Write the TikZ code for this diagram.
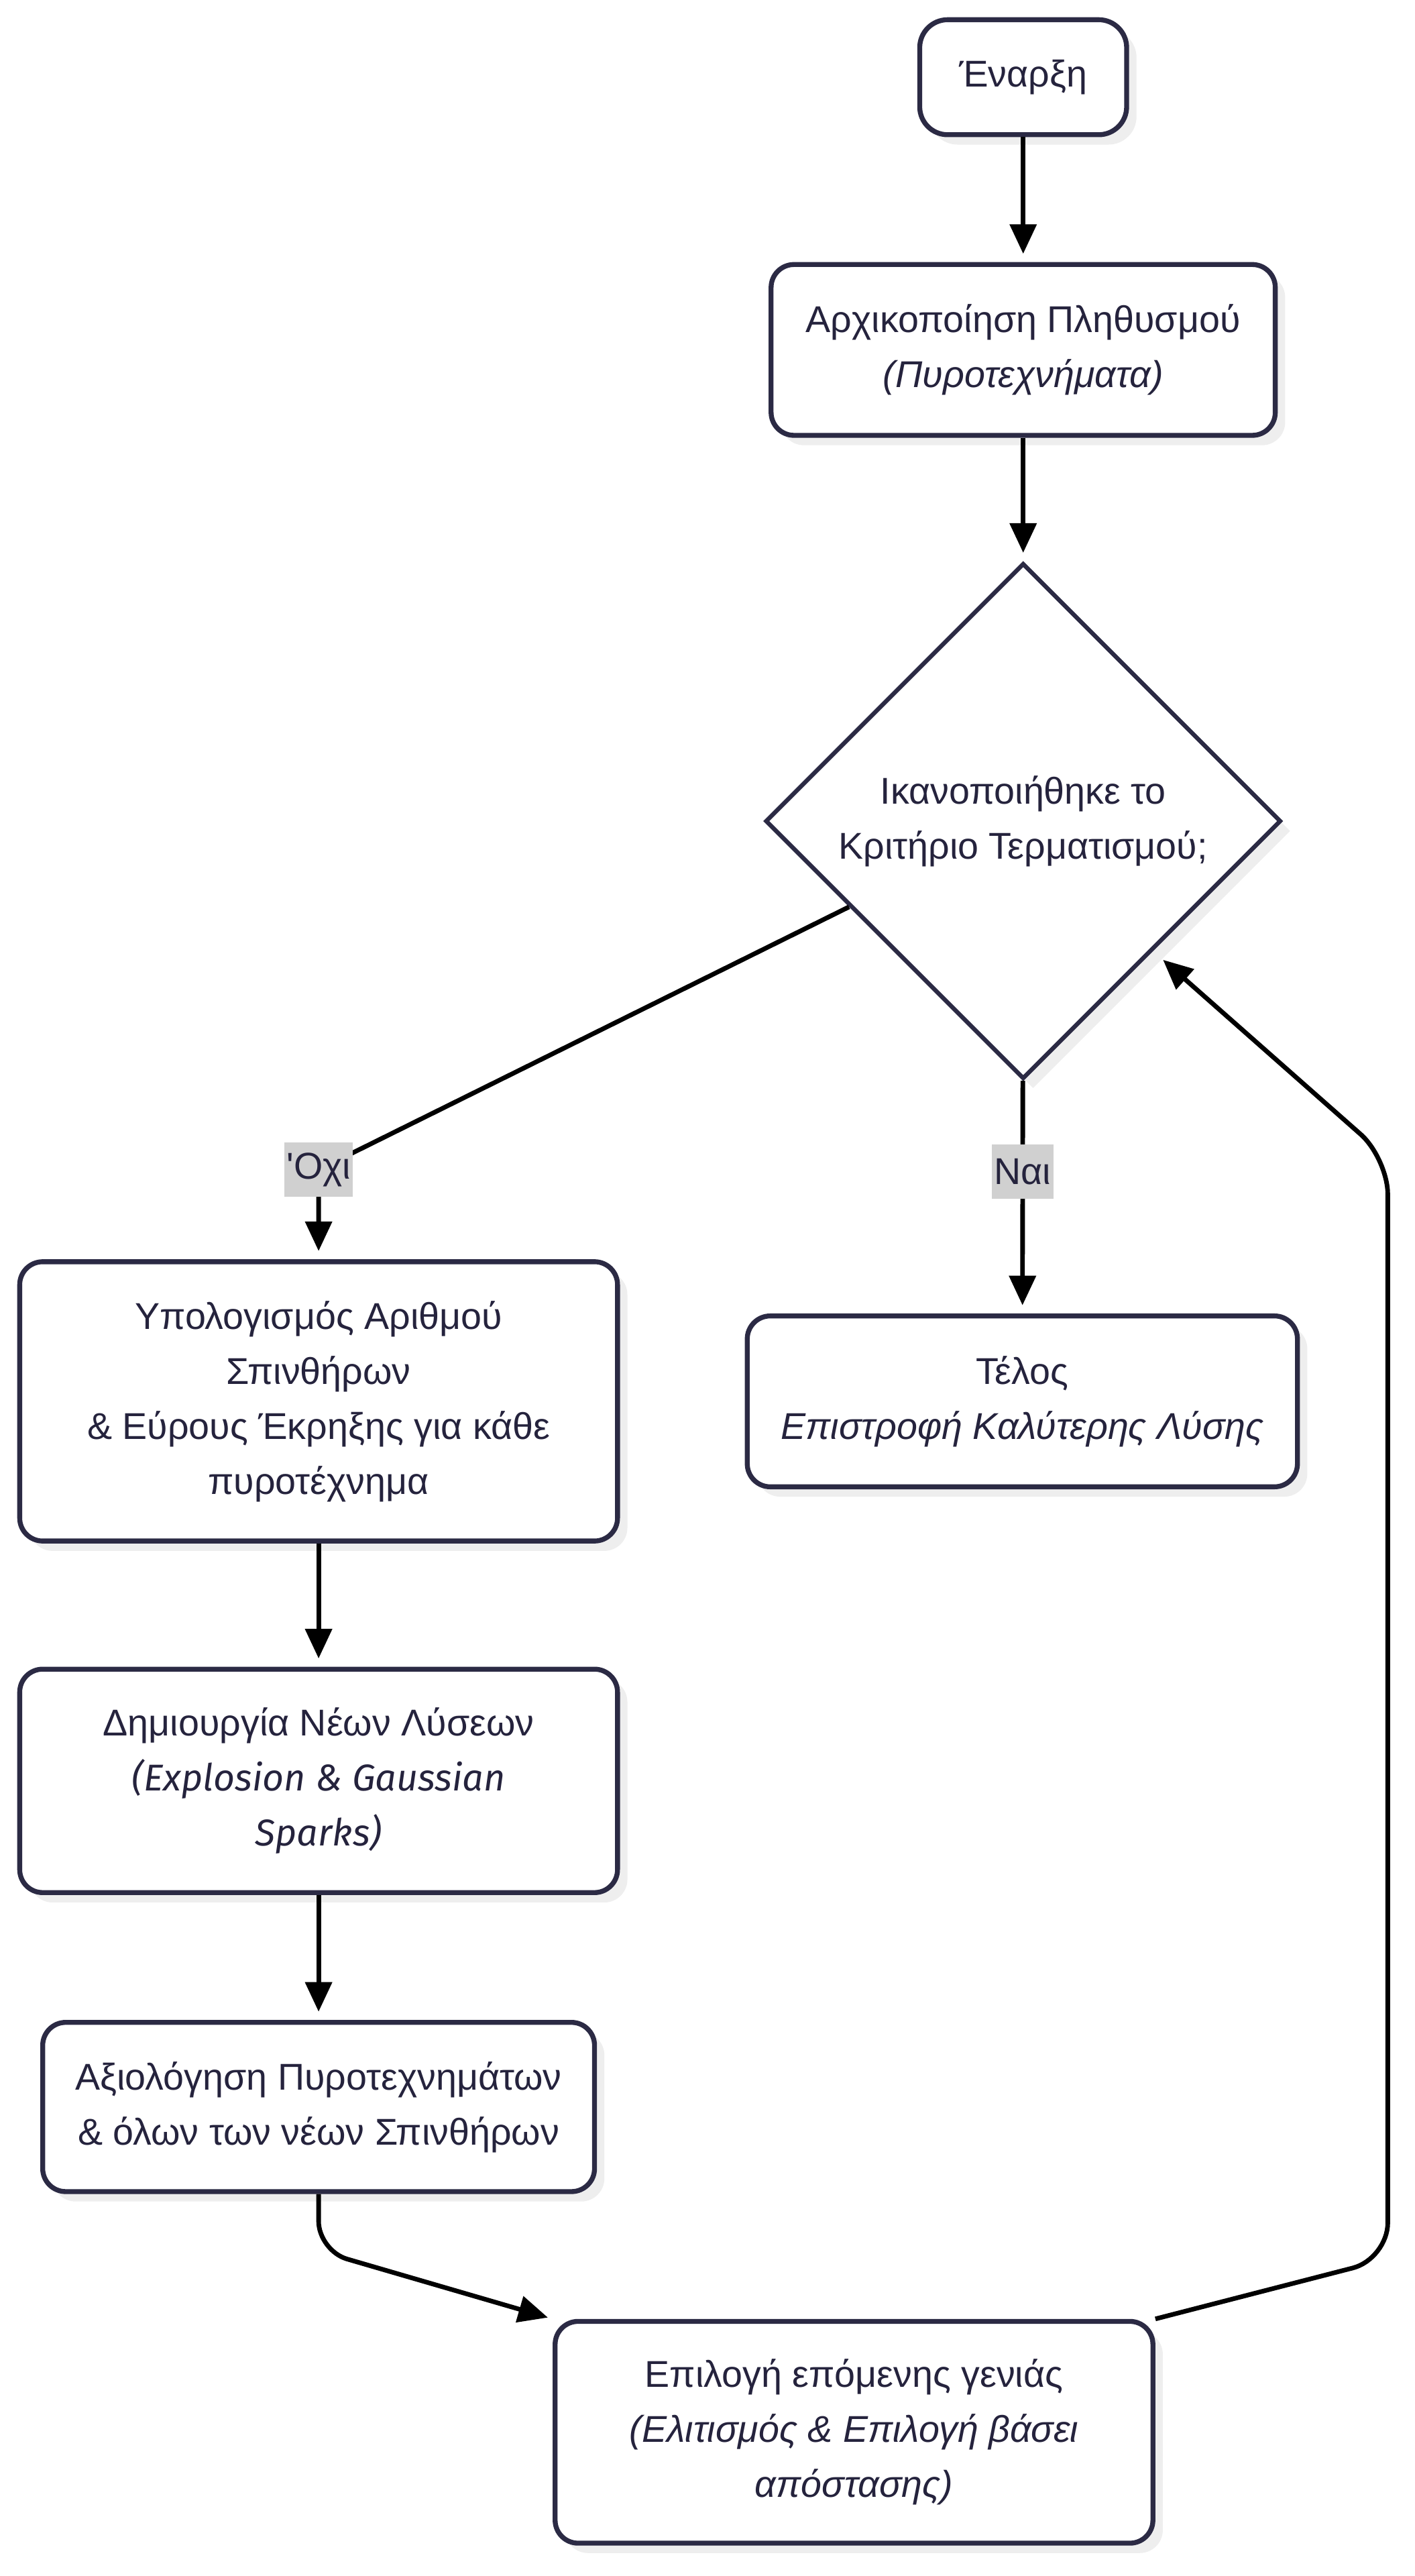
\documentclass[tikz,border=0pt]{standalone}
\usepackage{fontspec}
\setmainfont{Liberation Sans}[Ligatures=TeXOff]
\newfontfamily\sparkfont{Fira Sans}
\usetikzlibrary{arrows.meta, positioning, shapes.geometric, shadows, calc}
\definecolor{linec}{HTML}{2B2A44}
\definecolor{textc}{HTML}{25233D}
\definecolor{labelgray}{HTML}{D0D0D0}
\definecolor{shadowgray}{HTML}{EEEEEE}

\begin{document}
\begin{tikzpicture}[x=1pt, y=-1pt, >={Triangle[length=18pt,width=16pt]},
                    font={\fontsize{22.7pt}{33.5pt}\selectfont},
    flow/.style={->, shorten >=5pt, line width=2.8pt, draw=black},
    block/.style={rectangle, rounded corners=14pt, draw=linec, line width=3pt,
                  fill=white, text=textc, align=center, inner sep=0pt,
                  drop shadow={shadow xshift=6pt, shadow yshift=-6pt, fill=shadowgray, opacity=1}},
    decision/.style={diamond, aspect=1, draw=linec, line width=2.6pt, fill=white,
                  text=textc, align=center, inner sep=0pt,
                  minimum width=314pt, minimum height=314pt,
                  drop shadow={shadow xshift=6pt, shadow yshift=-6pt, fill=shadowgray, opacity=1}},
    lbl/.style={fill=labelgray, text=textc, sharp corners, inner xsep=1.5pt, inner ysep=0pt, minimum height=33pt}]

  \useasboundingbox[fill=white] (0,0) rectangle (861.2,1568);

  \node[block, rounded corners=17pt, minimum width=126pt, minimum height=70pt] (start) at (623,47) {Έναρξη};
  \node[block, minimum width=307pt, minimum height=104pt] (init) [below=76pt of start]
       {Αρχικοποίηση Πληθυσμού\\\textit{(Πυροτεχνήματα)}};
  \node[decision] (dec) [below=75pt of init] {Ικανοποιήθηκε το\\Κριτήριο Τερματισμού;};
  \node[block, minimum width=364pt, minimum height=170pt] (calc) at (194,853)
       {Υπολογισμός Αριθμού\\Σπινθήρων\\\& Εύρους Έκρηξης για κάθε\\πυροτέχνημα};
  \node[block, minimum width=335pt, minimum height=104pt] (telos) at (622.5,853)
       {Τέλος\\\textit{Επιστροφή Καλύτερης Λύσης}};
  \node[block, minimum width=364pt, minimum height=136pt] (create) [below=75pt of calc]
       {Δημιουργία Νέων Λύσεων\\{\sparkfont\itshape (Explosion \& Gaussian}\\{\sparkfont\itshape Sparks)}};
  \node[block, minimum width=336pt, minimum height=103pt] (eval) [below=76pt of create]
       {Αξιολόγηση Πυροτεχνημάτων\\\& όλων των νέων Σπινθήρων};
  \node[block, minimum width=364pt, minimum height=135pt] (select) at (520,1480.5)
       {Επιλογή επόμενης γενιάς\\\textit{(Ελιτισμός \& Επιλογή βάσει}\\\textit{απόστασης)}};

  % turning points
  \coordinate (noturn) at (194,712);
  \coordinate (evturn) at (194,1370);
  \coordinate (loopA) at (845,1375);
  \coordinate (loopB) at (845,705);

  \path (start) edge[flow] (init)
        (init) edge[flow] (dec)
        (calc) edge[flow] (create)
        (create) edge[flow] (eval);

  \draw[flow, rounded corners=4pt] ($(dec.west)!0.33!(dec.south)$) -- (noturn) node[lbl] {'Οχι} -- (calc);
  \draw[flow] (dec) -- node[lbl, pos=0.39] {Ναι} (telos);
  \draw[flow, rounded corners=18pt, shorten >=3pt] (eval) -- (evturn) -- (select.north west);
  \draw[flow, rounded corners=22pt, shorten >=8pt] (select.north east) -- (loopA) -- (loopB)
       -- ($(dec.east)!0.5!(dec.south)$);
\end{tikzpicture}
\end{document}
